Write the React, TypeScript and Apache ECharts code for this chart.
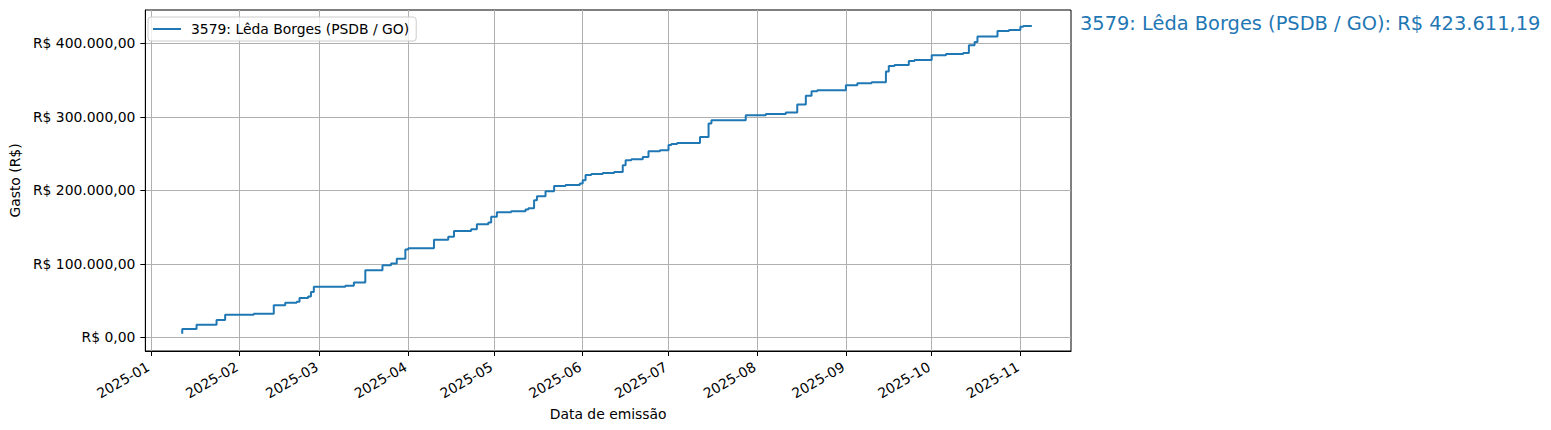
import { useEffect, useRef } from 'react'
import * as echarts from 'echarts'

const SERIES_NAME = '3579: Lêda Borges (PSDB / GO)'
const TITLE_TEXT = '3579: Lêda Borges (PSDB / GO): R$ 423.611,19'

// datas de emissão e gasto acumulado (degraus)
const dates = [
  '2025-01-12', '2025-01-17', '2025-01-24', '2025-01-27', '2025-02-06', '2025-02-13',
  '2025-02-17', '2025-02-21', '2025-02-22', '2025-02-25', '2025-02-26', '2025-02-27',
  '2025-03-10', '2025-03-13', '2025-03-17', '2025-03-23', '2025-03-26', '2025-03-28',
  '2025-03-31', '2025-04-01', '2025-04-10', '2025-04-15', '2025-04-17', '2025-04-23',
  '2025-04-25', '2025-04-29', '2025-04-30', '2025-05-02', '2025-05-07', '2025-05-12',
  '2025-05-13', '2025-05-15', '2025-05-16', '2025-05-19', '2025-05-22', '2025-05-26',
  '2025-05-31', '2025-06-01', '2025-06-02', '2025-06-04', '2025-06-08', '2025-06-12',
  '2025-06-15', '2025-06-16', '2025-06-18', '2025-06-22', '2025-06-24', '2025-06-28',
  '2025-07-01', '2025-07-02', '2025-07-04', '2025-07-12', '2025-07-15', '2025-07-16',
  '2025-07-28', '2025-08-04', '2025-08-11', '2025-08-15', '2025-08-18', '2025-08-20',
  '2025-08-22', '2025-09-01', '2025-09-05', '2025-09-10', '2025-09-15', '2025-09-15',
  '2025-09-16', '2025-09-18', '2025-09-23', '2025-09-25', '2025-10-01', '2025-10-06',
  '2025-10-12', '2025-10-14', '2025-10-16', '2025-10-17', '2025-10-24', '2025-10-28',
  '2025-11-01', '2025-11-02', '2025-11-05',
]

const totals = [
  4800, 11300, 17100, 23500, 30700, 32000,
  43500, 47000, 48400, 53400, 55700, 61500,
  68800, 70100, 74500, 91400, 98200, 100500,
  106800, 119600, 121300, 132600, 136700, 144800,
  147100, 153900, 156200, 163900, 170200, 171600,
  173900, 175700, 186600, 192000, 198800, 206000,
  207300, 209200, 213700, 220900, 222300, 223600,
  225000, 234100, 240900, 242200, 245400, 253100,
  254500, 261700, 263000, 264400, 272600, 290800,
  295200, 302000, 303800, 305700, 316600, 328800,
  334600, 336000, 342800, 345500, 346900, 356400,
  361800, 369000, 370400, 375800, 377200, 383600,
  385300, 386700, 397500, 401600, 409400, 416600,
  418000, 422600, 423611.19,
]

const xTickLabels = [
  '2025-01', '2025-02', '2025-03', '2025-04', '2025-05', '2025-06',
  '2025-07', '2025-08', '2025-09', '2025-10', '2025-11',
]

const yTicks = [0, 100000, 200000, 300000, 400000]
const yTickLabels = ['R$ 0,00', 'R$ 100.000,00', 'R$ 200.000,00', 'R$ 300.000,00', 'R$ 400.000,00']

const FONT = 'DejaVu Sans'
const DAY = 86400000

// 'YYYY-MM' ou 'YYYY-MM-DD' -> timestamp (UTC)
function toTime(s: string) {
  const [y, m, d] = s.split('-').map(Number)
  return Date.UTC(y, m - 1, d || 1)
}

export default function App() {
  const elRef = useRef<HTMLDivElement>(null)

  useEffect(() => {
    if (!elRef.current) return
    const chart = echarts.init(elRef.current, undefined, { renderer: 'svg' })
    const xTickValues = xTickLabels.map(toTime)
    const jan1 = toTime('2025-01')

    chart.setOption({
      animation: false,
      backgroundColor: '#ffffff',
      textStyle: { fontFamily: FONT },
      title: {
        text: TITLE_TEXT,
        left: 1080,
        top: 14,
        padding: 0,
        textStyle: { color: '#1f77b4', fontSize: 19.4, fontWeight: 'normal', fontFamily: FONT },
      },
      legend: {
        data: [SERIES_NAME],
        left: 148,
        top: 17,
        orient: 'vertical',
        icon: 'rect',
        itemWidth: 28,
        itemHeight: 2,
        padding: [5, 7, 5, 5],
        borderColor: '#cccccc',
        borderWidth: 1,
        borderRadius: 3,
        backgroundColor: 'rgba(255,255,255,0.8)',
        textStyle: { fontSize: 13.9, color: '#000', fontFamily: FONT, padding: [0, 0, 0, 5] },
      },
      grid: {
        left: 141,
        right: 480,
        top: 10,
        bottom: 79,
        show: true,
        borderColor: '#000',
        borderWidth: 1,
        containLabel: false,
      },
      xAxis: {
        type: 'value',
        min: jan1 - 1.9 * DAY,
        max: jan1 + 321.7 * DAY,
        name: 'Data de emissão',
        nameLocation: 'middle',
        nameGap: 53,
        nameTextStyle: { fontSize: 13.9, color: '#000', fontFamily: FONT },
        axisLine: { show: true, onZero: false, lineStyle: { color: '#000', width: 1 } },
        axisTick: { show: true, length: 5, lineStyle: { color: '#000' }, customValues: xTickValues },
        axisLabel: {
          customValues: xTickValues,
          rotate: 30,
          margin: 13,
          padding: [0, 3, 0, 0],
          fontSize: 13.9,
          color: '#000',
          fontFamily: FONT,
          formatter: (v: number) => {
            const i = xTickValues.findIndex((t) => Math.abs(t - v) < DAY / 2)
            return i >= 0 ? xTickLabels[i] : ''
          },
        },
        splitLine: { show: true, lineStyle: { color: '#b0b0b0', width: 1 } },
      },
      yAxis: {
        type: 'value',
        min: -18600,
        max: 445300,
        name: 'Gasto (R$)',
        nameLocation: 'middle',
        nameGap: 118,
        nameTextStyle: { fontSize: 13.9, color: '#000', fontFamily: FONT },
        axisLine: { show: true, onZero: false, lineStyle: { color: '#000', width: 1 } },
        axisTick: { show: true, length: 5, lineStyle: { color: '#000' }, customValues: yTicks },
        axisLabel: {
          customValues: yTicks,
          margin: 10,
          fontSize: 13.9,
          color: '#000',
          fontFamily: FONT,
          formatter: (v: number) => {
            const i = yTicks.indexOf(v)
            return i >= 0 ? yTickLabels[i] : ''
          },
        },
        splitLine: { show: true, lineStyle: { color: '#b0b0b0', width: 1 } },
      },
      series: [
        {
          name: SERIES_NAME,
          type: 'line',
          step: 'start',
          showSymbol: false,
          data: dates.map((d, i) => [toTime(d), totals[i]]),
          itemStyle: { color: '#1f77b4' },
          lineStyle: { color: '#1f77b4', width: 2 },
        },
      ],
    })

    return () => chart.dispose()
  }, [])

  return (
    <div
      ref={elRef}
      style={{ position: 'fixed', left: 0, top: 0, width: 1551, height: 430 }}
    />
  )
}
